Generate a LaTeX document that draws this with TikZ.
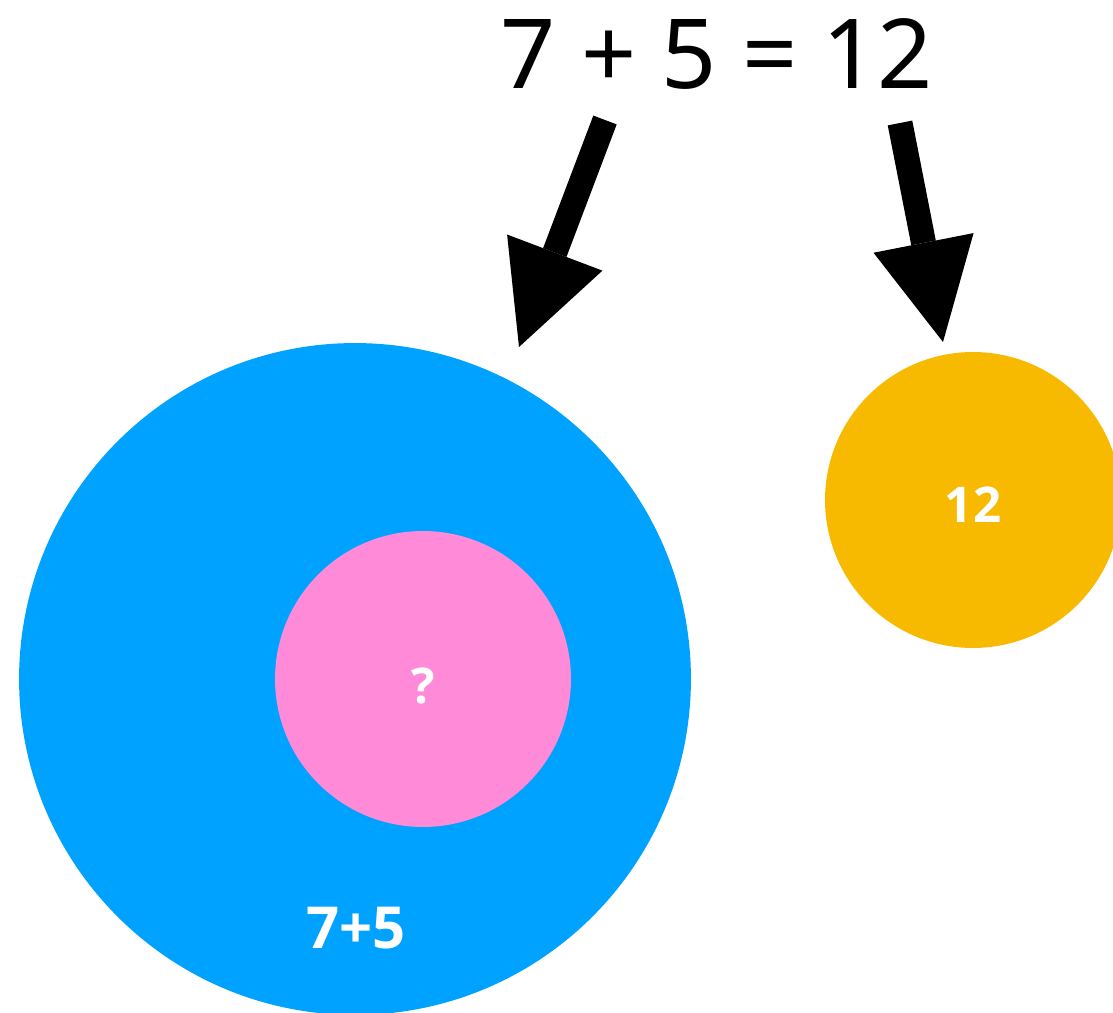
\documentclass[tikz,border=0pt]{standalone}
\usepackage{fontspec}
\setmainfont{Noto Sans}
\newfontfamily\tagfont{Open Sans}
\usepackage{tikz}
\usetikzlibrary{arrows.meta}

\definecolor{wholeblue}{RGB}{0,162,255}
\definecolor{partpink}{RGB}{255,138,216}
\definecolor{sumgold}{RGB}{247,186,0}

\begin{document}
\begin{tikzpicture}[x=0.02cm, y=-0.02cm,
        every node/.style={inner sep=0pt},
        disc/.style={circle, minimum size=#1},
        tag/.style={text=white, anchor=base, font=\tagfont\bfseries\fontsize{28}{30}\selectfont},
        bigarrow/.style={-{Triangle[width=2.04cm, length=2.02cm, line width=0pt]}, line width=0.5cm}]
        \useasboundingbox (0,0) rectangle (1113,1013);

        % Equation on top
        \node[anchor=base, font=\fontsize{55}{60}\selectfont] (eq) at (717,89) {7 + 5 = 12};

        % Left side: outer circle with the inner unknown
        \node[disc=13.44cm, fill=wholeblue] (whole) at (355,679) {};
        \node[tag, font=\tagfont\bfseries\fontsize{33}{36}\selectfont] (expr) at (356,948) {7+5};
        \node[disc=5.92cm, fill=partpink] (part) at (423,679) {};
        \node[tag] (unknown) at (423,703) {?};

        % Right side: the result
        \node[disc=5.92cm, fill=sumgold] (result) at (973,500) {};
        \node[tag] (value) at (973,522) {12};

        % Arrows from the equation
        \coordinate (lhs) at (605,120);
        \coordinate (lhstip) at (519,347);
        \coordinate (rhs) at (900,123);
        \coordinate (rhstip) at (943,342);
        \draw[bigarrow] (lhs) -- (lhstip);
        \draw[bigarrow] (rhs) -- (rhstip);
\end{tikzpicture}
\end{document}
